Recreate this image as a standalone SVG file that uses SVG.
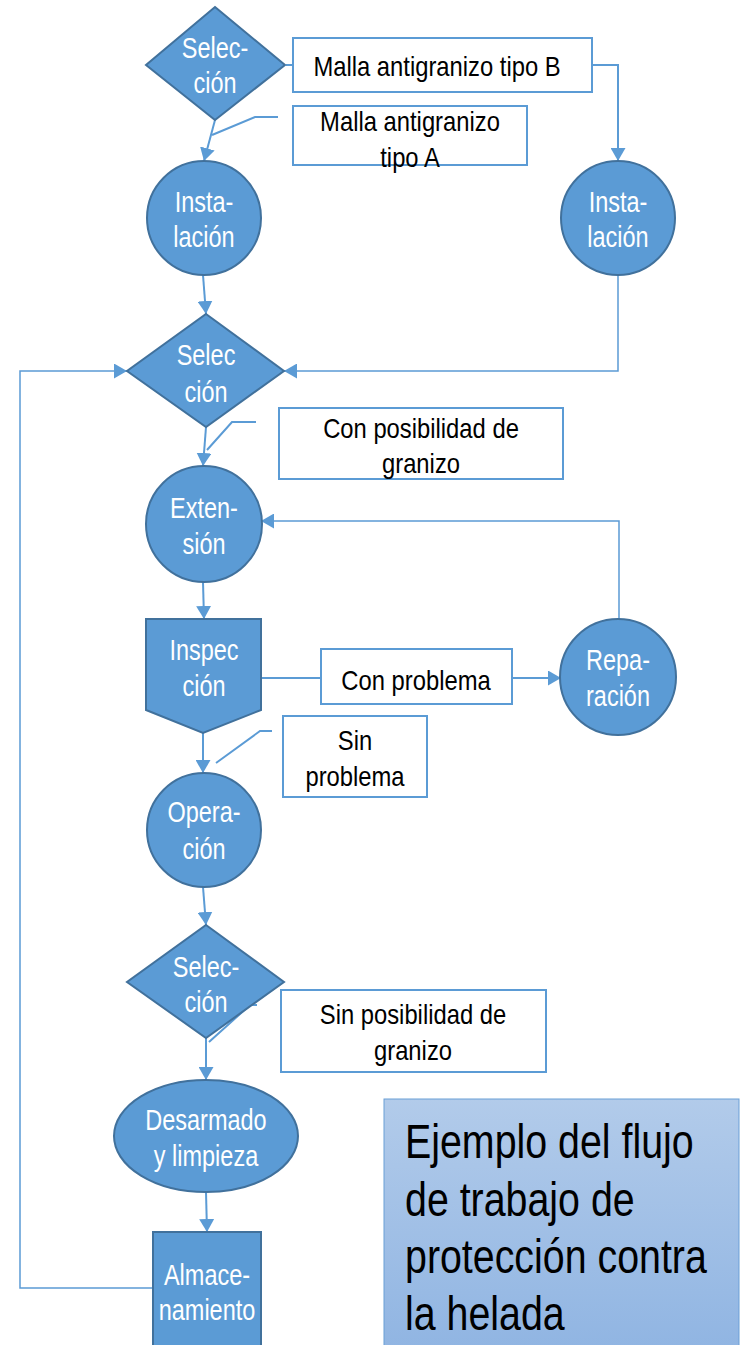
<svg xmlns="http://www.w3.org/2000/svg" width="740" height="1345" viewBox="0 0 740 1345">
<defs>
<marker id="arr" markerUnits="userSpaceOnUse" markerWidth="13" markerHeight="15" viewBox="0 0 13 15" refX="13" refY="7.5" orient="auto">
<path d="M0,0 L13,7.5 L0,15 z" fill="#5b9bd5"/>
</marker>
<linearGradient id="tg" x1="0" y1="0" x2="0" y2="1">
<stop offset="0" stop-color="#b2cbea"/>
<stop offset="1" stop-color="#8fb4e2"/>
</linearGradient>
</defs>
<style>
.nd{fill:#5b9bd5;stroke:#41719c;stroke-width:2}
.bx{fill:#ffffff;stroke:#5b9bd5;stroke-width:2}
.c{fill:none;stroke:#5b9bd5;stroke-width:2}
.t{fill:none;stroke:#5b9bd5;stroke-width:1.5}
.w{font-family:"Liberation Sans",Arial,sans-serif;font-size:29px;fill:#ffffff;text-anchor:middle}
.k{font-family:"Liberation Sans",Arial,sans-serif;font-size:28px;fill:#000000;text-anchor:middle}
.ttl{font-family:"Liberation Sans",Arial,sans-serif;font-size:48px;fill:#000000}
</style>
<rect width="740" height="1345" fill="#ffffff"/>
<g id="connectors">
<path class="c" d="M286,65 L293,65"/>
<path class="c" d="M592,65 L618,65 L618,161" marker-end="url(#arr)"/>
<path class="c" d="M215,120 L204,161" marker-end="url(#arr)"/>
<path class="c" d="M278,117 L255,117 L212,135"/>
<path class="c" d="M203,275 L206,314" marker-end="url(#arr)"/>
<path class="t" d="M618,275 L618,371 L284,371" marker-end="url(#arr)"/>
<path class="t" d="M153,1288 L20,1288 L20,371 L127,371" marker-end="url(#arr)"/>
<path class="c" d="M206,427 L203,466" marker-end="url(#arr)"/>
<path class="c" d="M256,422 L232,422 L207,450"/>
<path class="c" d="M203,582 L204,619" marker-end="url(#arr)"/>
<path class="c" d="M261,678 L561,678" marker-end="url(#arr)"/>
<path class="t" d="M619,619 L619,521 L261,521" marker-end="url(#arr)"/>
<path class="c" d="M272,731 L260,731 L216,763"/>
<path class="c" d="M203,733 L203,773" marker-end="url(#arr)"/>
<path class="c" d="M203,887 L206,925" marker-end="url(#arr)"/>
<path class="c" d="M257,1005 L250,1005 L209,1042"/>
<path class="c" d="M206,1038 L206,1080" marker-end="url(#arr)"/>
<path class="c" d="M206,1192 L207,1232" marker-end="url(#arr)"/>
</g>
<g id="sel1">
<path class="nd" d="M215,7 L285,65 L215,120 L146,65 z"/>
<text class="w" transform="matrix(0.81 0 0 1 215 0)" x="0" y="58">Selec-</text>
<text class="w" transform="matrix(0.81 0 0 1 215 0)" x="0" y="93">ción</text>
</g>
<g id="boxB">
<rect class="bx" x="293" y="38" width="299" height="54"/>
<text class="k" transform="matrix(0.85 0 0 1 437 0)" x="0" y="76">Malla antigranizo tipo B</text>
</g>
<g id="boxA">
<rect class="bx" x="293" y="106" width="234" height="59"/>
<text class="k" transform="matrix(0.85 0 0 1 410 0)" x="0" y="131">Malla antigranizo</text>
<text class="k" transform="matrix(0.85 0 0 1 410 0)" x="0" y="167">tipo A</text>
</g>
<g id="instL">
<circle class="nd" cx="204" cy="218" r="57"/>
<text class="w" transform="matrix(0.81 0 0 1 204 0)" x="0" y="212">Insta-</text>
<text class="w" transform="matrix(0.81 0 0 1 204 0)" x="0" y="247">lación</text>
</g>
<g id="instR">
<circle class="nd" cx="618" cy="218" r="57"/>
<text class="w" transform="matrix(0.81 0 0 1 618 0)" x="0" y="212">Insta-</text>
<text class="w" transform="matrix(0.81 0 0 1 618 0)" x="0" y="247">lación</text>
</g>
<g id="sel2">
<path class="nd" d="M206,314 L284,371 L206,427 L127,371 z"/>
<text class="w" transform="matrix(0.81 0 0 1 206 0)" x="0" y="365">Selec</text>
<text class="w" transform="matrix(0.81 0 0 1 206 0)" x="0" y="402">ción</text>
</g>
<g id="boxCon">
<rect class="bx" x="279" y="408" width="284" height="71"/>
<text class="k" transform="matrix(0.85 0 0 1 421 0)" x="0" y="438">Con posibilidad de</text>
<text class="k" transform="matrix(0.85 0 0 1 421 0)" x="0" y="473">granizo</text>
</g>
<g id="ext">
<circle class="nd" cx="204" cy="524" r="58"/>
<text class="w" transform="matrix(0.81 0 0 1 204 0)" x="0" y="518">Exten-</text>
<text class="w" transform="matrix(0.81 0 0 1 204 0)" x="0" y="554">sión</text>
</g>
<g id="insp">
<path class="nd" d="M146,619 L261,619 L261,710 L203,733 L146,710 z"/>
<text class="w" transform="matrix(0.81 0 0 1 204 0)" x="0" y="660">Inspec</text>
<text class="w" transform="matrix(0.81 0 0 1 204 0)" x="0" y="696">ción</text>
</g>
<g id="boxConProb">
<rect class="bx" x="321" y="649" width="191" height="55"/>
<text class="k" transform="matrix(0.85 0 0 1 416 0)" x="0" y="690">Con problema</text>
</g>
<g id="rep">
<circle class="nd" cx="618" cy="677" r="58"/>
<text class="w" transform="matrix(0.81 0 0 1 618 0)" x="0" y="670">Repa-</text>
<text class="w" transform="matrix(0.81 0 0 1 618 0)" x="0" y="706">ración</text>
</g>
<g id="boxSinProb">
<rect class="bx" x="283" y="716" width="144" height="81"/>
<text class="k" transform="matrix(0.85 0 0 1 355 0)" x="0" y="750">Sin</text>
<text class="k" transform="matrix(0.85 0 0 1 355 0)" x="0" y="786">problema</text>
</g>
<g id="oper">
<circle class="nd" cx="204" cy="830" r="57"/>
<text class="w" transform="matrix(0.81 0 0 1 204 0)" x="0" y="822">Opera-</text>
<text class="w" transform="matrix(0.81 0 0 1 204 0)" x="0" y="859">ción</text>
</g>
<g id="sel3">
<path class="nd" d="M206,925 L284,982 L206,1038 L127,982 z"/>
<text class="w" transform="matrix(0.81 0 0 1 206 0)" x="0" y="977">Selec-</text>
<text class="w" transform="matrix(0.81 0 0 1 206 0)" x="0" y="1012">ción</text>
</g>
<g id="boxSinPos">
<rect class="bx" x="281" y="990" width="265" height="82"/>
<text class="k" transform="matrix(0.85 0 0 1 413 0)" x="0" y="1024">Sin posibilidad de</text>
<text class="k" transform="matrix(0.85 0 0 1 413 0)" x="0" y="1060">granizo</text>
</g>
<g id="desarm">
<ellipse class="nd" cx="206" cy="1136" rx="92" ry="56"/>
<text class="w" transform="matrix(0.81 0 0 1 206 0)" x="0" y="1130">Desarmado</text>
<text class="w" transform="matrix(0.81 0 0 1 206 0)" x="0" y="1166">y limpieza</text>
</g>
<g id="almac">
<rect class="nd" x="153" y="1232" width="108" height="125"/>
<text class="w" transform="matrix(0.81 0 0 1 207 0)" x="0" y="1285">Almace-</text>
<text class="w" transform="matrix(0.81 0 0 1 207 0)" x="0" y="1320">namiento</text>
</g>
<g id="title">
<rect x="384" y="1099" width="355" height="260" fill="url(#tg)" stroke="#6a9fd6" stroke-width="1"/>
<text class="ttl" transform="matrix(0.82 0 0 1 405 0)" x="0" y="1158">Ejemplo del flujo</text>
<text class="ttl" transform="matrix(0.82 0 0 1 405 0)" x="0" y="1216">de trabajo de</text>
<text class="ttl" transform="matrix(0.82 0 0 1 405 0)" x="0" y="1273">protección contra</text>
<text class="ttl" transform="matrix(0.82 0 0 1 405 0)" x="0" y="1330">la helada</text>
</g>
</svg>
